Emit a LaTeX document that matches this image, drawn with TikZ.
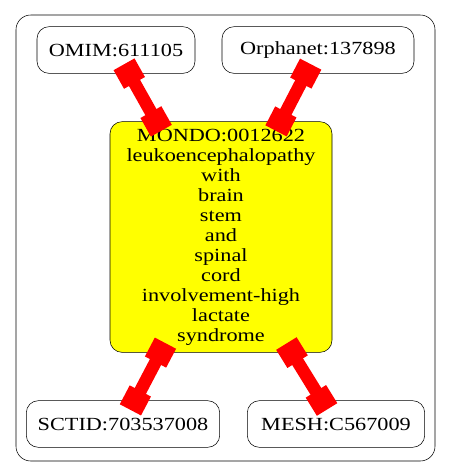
\documentclass[tikz,border=0pt]{standalone}
\usepackage{fontspec}
\setmainfont{Liberation Serif}[FakeStretch=1.2]
\usetikzlibrary{arrows.meta}
\definecolor{termyellow}{RGB}{255,255,0}
\definecolor{linkred}{RGB}{255,0,0}
\begin{document}
\begin{tikzpicture}[x=0.75pt,y=-0.75pt,
  term/.style={draw,rounded corners=9pt,minimum height=35pt,inner sep=2pt,
    font=\fontsize{13.9}{15}\selectfont},
  link/.style={linkred,line width=9.5pt,shorten <=-8pt,shorten >=-8pt,
    {Square[length=16pt,width=18pt]}-{Square[length=16pt,width=18pt]}}]
  \useasboundingbox (0,0) rectangle (451,476);
  % cluster
  \draw[rounded corners=11pt] (16,15) rectangle (435,461);
  \node[term,minimum width=118.5pt] (omim) at (116,50) {OMIM:611105};
  \node[term,minimum width=144pt] (orpha) at (318,50) {Orphanet:137898};
  \node[term,fill=termyellow,align=center,minimum width=166.5pt,minimum height=173pt]
    (mondo) at (221,237) {MONDO:0012622\\leukoencephalopathy\\with\\brain\\stem\\and\\spinal\\cord\\involvement-high\\lactate\\syndrome};
  \node[term,minimum width=145pt] (sctid) at (123,424) {SCTID:703537008};
  \node[term,minimum width=133pt] (mesh) at (336,424) {MESH:C567009};
  % links
  \draw[link] (omim) -- (mondo);
  \draw[link] (orpha) -- (mondo);
  \draw[link] (mondo) -- (sctid);
  \draw[link] (mondo) -- (mesh);
\end{tikzpicture}
\end{document}
